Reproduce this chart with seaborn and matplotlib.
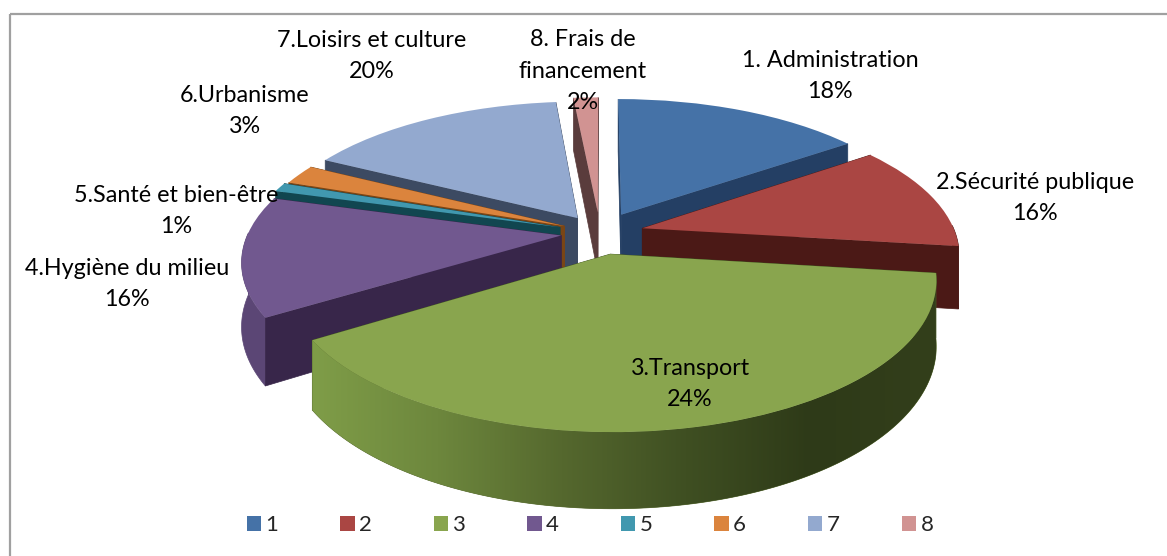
import numpy as np
import matplotlib
matplotlib.use("Agg")
import matplotlib.pyplot as plt
import seaborn as sns
from matplotlib.colors import LinearSegmentedColormap
from matplotlib.patches import Polygon, Rectangle
from matplotlib.transforms import Transform

# ---- data ----
legend_labels = ["1", "2", "3", "4", "5", "6", "7", "8"]
category_names = ["1. Administration", "2.Sécurité publique", "3.Transport",
                  "4.Hygiène du milieu", "5.Santé et bien-être", "6.Urbanisme",
                  "7.Loisirs et culture", "8. Frais de\nfinancement"]
printed_percent = ["18%", "16%", "24%", "16%", "1%", "3%", "20%", "2%"]
# drawn shares of the slices as they appear in the picture
slice_shares = [15.2, 11.8, 39.1, 13.3, 1.0, 2.2, 15.9, 1.5]
explode = [0.15, 0.14, 0.15, 0.125, 0.135, 0.125, 0.13, 0.15]
top_colors = ["#4572a7", "#aa4643", "#89a54e", "#71588f", "#4198af", "#db843d", "#93a9cf", "#d19392"]
cut_colors = ["#243f64", "#4b1916", "#3f5320", "#38264a", "#114650", "#7a4515", "#3c4a62", "#5a3c3c"]
wall_colors = ["#2c4a73", "#4b1916", "#56692e", "#5b4675", "#1d5a68", "#8a5018", "#4a5a78", "#6a4848"]
label_xy = [(830, 76), (1035, 198), (690, 384), (127, 284), (176, 211), (245, 111), (372, 56), (583, 71)]
draw_order = [7, 6, 0, 5, 4, 3, 1, 2]

# ---- projection of the unit pie onto the page ----
CX, CY, KX, KY, PERSP, DEPTH = 600.0, 233.0, 313.0, 140.5, 0.1666, 62.0


def project(x, y, z=0.0):
    s = 1.0 / (1.0 + PERSP * y)
    return CX + KX * x * s, CY - KY * y * s + DEPTH * z * s


class Perspective(Transform):
    input_dims = 2
    output_dims = 2
    is_affine = False

    def transform_non_affine(self, values):
        px, py = project(values[:, 0], values[:, 1])
        return np.column_stack([px, py])


sns.set_theme(style="white")
plt.rcParams["font.family"] = ["Lato", "DejaVu Sans"]
palette = sns.color_palette(top_colors)

fig = plt.figure(figsize=(11.67, 5.56), dpi=100, facecolor="white")
ax = fig.add_axes([0, 0, 1, 1])
wedges, _ = ax.pie(slice_shares, startangle=90, counterclock=False, explode=explode,
                   colors=palette, radius=1, center=(0, 0),
                   wedgeprops={"linewidth": 0})
ax.set_aspect("auto")
ax.set_xlim(0, 1167)
ax.set_ylim(556, 0)
ax.axis("off")

persp = Perspective() + ax.transData
green_ramp = LinearSegmentedColormap.from_list(
    "ramp", ["#7f9d48", "#6d873d", "#55682e", "#3f4f22", "#2e3a18", "#333f1b"])

z = 2
for i in draw_order:
    w = wedges[i]
    cx, cy = w.center
    t1, t2 = np.deg2rad(w.theta1), np.deg2rad(w.theta2)
    # the big front slice hides its own cut faces behind its rim
    cut_z = z if i == 2 else z + 1
    wall_z = z + 1 if i == 2 else z
    th = np.linspace(t1, t2, 160)
    th = th[np.sin(th) < 0.02]
    if th.size > 1:
        xs, ys = cx + np.cos(th), cy + np.sin(th)
        up = np.column_stack(project(xs, ys))
        low = np.column_stack(project(xs, ys, 1.0))
        wall = Polygon(np.vstack([up, low[::-1]]), closed=True, fc=wall_colors[i],
                       ec=wall_colors[i], lw=0.5, zorder=wall_z)
        ax.add_patch(wall)
        if i == 2:
            xmin, xmax = up[:, 0].min(), up[:, 0].max()
            ymin, ymax = up[:, 1].min(), low[:, 1].max()
            im = ax.imshow(np.linspace(0, 1, 256).reshape(1, -1), cmap=green_ramp, aspect="auto",
                           extent=(xmin, xmax, ymax, ymin), zorder=wall_z + 0.5)
            im.set_clip_path(wall)
            ax.set_xlim(0, 1167)
            ax.set_ylim(556, 0)
    for t in (t1, t2):
        ex, ey = cx + np.cos(t), cy + np.sin(t)
        a = project(cx, cy)
        b = project(ex, ey)
        c = project(ex, ey, 1.0)
        d = project(cx, cy, 1.0)
        ax.add_patch(Polygon([a, b, c, d], closed=True, fc=cut_colors[i], ec=cut_colors[i],
                             lw=0.5, zorder=cut_z))
    z += 2
    w.set_transform(persp)
    w.set_clip_on(False)
    w.set_zorder(z)
    z += 1

# frame: only its top and left edges fall inside the picture
ax.add_patch(Rectangle((9.5, 13.5), 1400, 800, fc="none", ec="#a0a0a0", lw=1.6, zorder=1))

for name, pct, (lx, ly) in zip(category_names, printed_percent, label_xy):
    ax.text(lx, ly, f"{name}\n{pct}", ha="center", va="center", fontsize=16.8,
            color="black", linespacing=1.62, zorder=50)

leg = ax.legend(wedges, legend_labels, ncol=8, loc="center", bbox_to_anchor=(590 / 1167, 1 - 525 / 556),
                frameon=False, fontsize=16, handlelength=0.65, handleheight=0.65,
                handletextpad=0.2, columnspacing=2.78, borderpad=0)
leg.set_zorder(60)

fig.savefig("out.png", dpi=100)
